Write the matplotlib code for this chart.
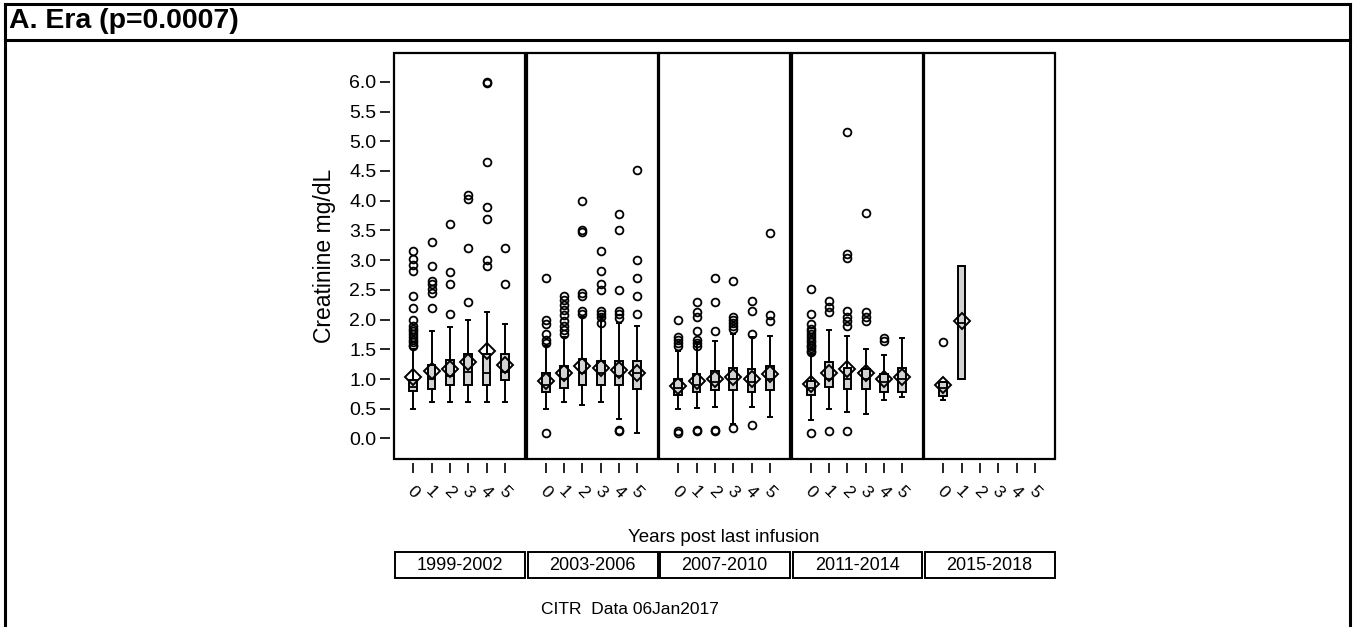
import matplotlib
matplotlib.use("Agg")
import matplotlib.pyplot as plt
from matplotlib.patches import Rectangle
from matplotlib.lines import Line2D

plt.rcParams['font.family'] = ['Liberation Sans', 'DejaVu Sans']

# ---------------- data ----------------
eras = ['1999-2002', '2003-2006', '2007-2010', '2011-2014', '2015-2018']
years = [0, 1, 2, 3, 4, 5]
year_labels = ['0', '1', '2', '3', '4', '5']
title_text = 'A. Era (p=0.0007)'
ylabel_text = 'Creatinine mg/dL'
xlabel_text = 'Years post last infusion'
footnote_text = 'CITR  Data 06Jan2017'
ytick_values = [0.0, 0.5, 1.0, 1.5, 2.0, 2.5, 3.0, 3.5, 4.0, 4.5, 5.0, 5.5, 6.0]

q1 = [
    [0.80, 0.83, 0.90, 0.90, 0.90, 0.99],
    [0.79, 0.85, 0.90, 0.90, 0.90, 0.84],
    [0.73, 0.78, 0.81, 0.81, 0.79, 0.81],
    [0.73, 0.86, 0.83, 0.83, 0.79, 0.79],
    [0.72, 1.00, None, None, None, None],
]
median = [
    [0.87, 1.00, 1.05, 1.12, 1.10, 1.12],
    [0.90, 1.00, 1.10, 1.10, 1.05, 1.10],
    [0.85, 0.90, 0.95, 1.00, 0.95, 1.00],
    [0.85, 1.00, 1.00, 1.00, 0.95, 1.00],
    [0.85, 1.95, None, None, None, None],
]
q3 = [
    [0.99, 1.24, 1.32, 1.42, 1.42, 1.42],
    [1.11, 1.22, 1.33, 1.31, 1.31, 1.31],
    [1.00, 1.08, 1.14, 1.19, 1.17, 1.22],
    [0.97, 1.28, 1.19, 1.17, 1.08, 1.19],
    [0.95, 2.90, None, None, None, None],
]
whisker_low = [
    [0.50, 0.61, 0.62, 0.61, 0.61, 0.61],
    [0.50, 0.61, 0.57, 0.61, 0.32, 0.10],
    [0.50, 0.52, 0.53, 0.25, 0.53, 0.36],
    [0.31, 0.50, 0.44, 0.42, 0.64, 0.69],
    [0.65, 1.00, None, None, None, None],
]
whisker_high = [
    [1.50, 1.80, 1.88, 2.00, 2.12, 1.92],
    [1.55, 1.70, 2.05, 2.05, 1.95, 1.90],
    [1.48, 1.62, 1.64, 1.75, 1.70, 1.72],
    [1.42, 1.83, 1.72, 1.50, 1.40, 1.69],
    [0.95, 2.90, None, None, None, None],
]
mean = [
    [1.03, 1.13, 1.17, 1.29, 1.48, 1.24],
    [0.97, 1.10, 1.22, 1.18, 1.16, 1.11],
    [0.89, 0.97, 1.00, 1.04, 1.00, 1.08],
    [0.92, 1.11, 1.17, 1.11, 1.00, 1.03],
    [0.90, 1.97, None, None, None, None],
]
outliers = [
    [[3.15, 3.02, 2.92, 2.82, 2.40, 2.20, 2.00, 1.90, 1.85, 1.80, 1.75, 1.70, 1.66, 1.62, 1.58, 1.55],
     [3.30, 2.90, 2.65, 2.60, 2.52, 2.45, 2.20],
     [3.60, 2.80, 2.60, 2.10],
     [4.10, 4.03, 3.20, 2.30],
     [6.00, 5.98, 4.65, 3.90, 3.70, 3.00, 2.90],
     [3.20, 2.60]],
    [[2.70, 2.00, 1.92, 1.75, 1.65, 1.60, 0.10],
     [2.40, 2.33, 2.25, 2.17, 2.08, 1.98, 1.90, 1.82, 1.75],
     [4.00, 3.50, 3.47, 2.45, 2.40, 2.15, 2.10],
     [3.15, 2.82, 2.60, 2.50, 2.15, 2.10, 2.05, 1.95],
     [3.78, 3.50, 2.50, 2.15, 2.10, 2.02, 0.15, 0.12],
     [4.52, 3.00, 2.70, 2.40, 2.10]],
    [[2.00, 1.70, 1.65, 1.60, 1.55, 0.12, 0.10],
     [2.30, 2.12, 2.05, 1.80, 1.65, 1.60, 1.56, 0.14, 0.12],
     [2.70, 2.30, 1.80, 0.15, 0.12],
     [2.65, 2.05, 2.00, 1.95, 1.90, 1.85, 0.17],
     [2.32, 2.14, 1.75, 0.22],
     [3.45, 2.08, 1.97]],
    [[2.52, 2.10, 1.93, 1.85, 1.80, 1.75, 1.70, 1.65, 1.62, 1.58, 1.55, 1.52, 1.48, 1.45, 0.10],
     [2.32, 2.22, 2.12, 0.12],
     [5.15, 3.10, 3.04, 2.15, 2.05, 1.97, 1.90, 0.12],
     [3.80, 2.12, 2.05, 1.98],
     [1.69, 1.64],
     []],
    [[1.62], [], [], [], [], []],
]

# ---------------- layout (pixels) ----------------
W, H, DPI = 1354, 627, 100
fig = plt.figure(figsize=(W / DPI, H / DPI), dpi=DPI)


def fx(px):
    return px / W


def fy(py):
    return 1 - py / H


# outer frame and title bar
for (x0, y0, x1, y1) in [(5, 4, 1350, 4), (5, 4, 5, 640), (1350, 4, 1350, 640),
                         (5, 39.5, 1350, 39.5)]:
    fig.add_artist(Line2D([fx(x0), fx(x1)], [fy(y0), fy(y1)], color='black', lw=2.2,
                          transform=fig.transFigure))
fig.text(fx(9), fy(21), title_text, fontsize=20.5, fontweight='bold', ha='left', va='center')

panel_left0, pitch, pw = 394, 132.5, 131
ptop, pbot = 52.7, 459.3

for i, era in enumerate(eras):
    ax = fig.add_axes([fx(panel_left0 + i * pitch), fy(pbot), pw / W, (pbot - ptop) / H])
    stats, pos = [], []
    for j in years:
        if q1[i][j] is None:
            continue
        stats.append(dict(q1=q1[i][j], med=median[i][j], q3=q3[i][j],
                          whislo=whisker_low[i][j], whishi=whisker_high[i][j],
                          mean=mean[i][j], fliers=outliers[i][j]))
        pos.append(j)
    ax.bxp(stats, positions=pos, widths=0.42, capwidths=0.22, showmeans=True,
           patch_artist=True,
           boxprops=dict(facecolor='#d3d3d3', edgecolor='black', linewidth=1.4),
           medianprops=dict(color='black', linewidth=1.3),
           whiskerprops=dict(color='black', linewidth=1.4),
           capprops=dict(color='black', linewidth=1.4),
           meanprops=dict(marker='D', markerfacecolor='none', markeredgecolor='black',
                          markersize=8.5, markeredgewidth=1.4),
           flierprops=dict(marker='o', markerfacecolor='none', markeredgecolor='black',
                           markersize=5.6, markeredgewidth=1.3))
    ax.set_xlim(-1.05, 6.1)
    ax.set_ylim(-0.35, 6.49)
    for s in ax.spines.values():
        s.set_color('none')
    ax.spines['bottom'].set_position(('outward', 2.5))
    ax.spines['left'].set_position(('outward', 3.0))
    ax.add_patch(Rectangle((0, 0), 1, 1, transform=ax.transAxes, fill=False,
                           edgecolor='black', lw=1.6, clip_on=False, zorder=5))
    ax.set_xticks(years)
    ax.set_xticklabels(year_labels, rotation=-45, fontsize=12.5, rotation_mode='default')
    ax.tick_params(axis='x', length=7.2, width=1.2, pad=8, color='black')
    ax.set_yticks(ytick_values)
    if i == 0:
        ax.set_yticklabels([f'{v:.1f}' for v in ytick_values], fontsize=14)
        ax.tick_params(axis='y', length=7.2, width=1.2, pad=2.5)
    else:
        ax.tick_params(axis='y', left=False, labelleft=False)
    # era label box
    fig.add_artist(Rectangle((fx(panel_left0 + i * pitch + 1), fy(578)), (pw - 1) / W, 26 / H,
                             transform=fig.transFigure, fill=False, edgecolor='black', lw=1.4))
    fig.text(fx(panel_left0 + i * pitch + pw / 2), fy(565), era, fontsize=13,
             ha='center', va='center')

fig.text(fx(325), fy(256), ylabel_text, fontsize=16.5, rotation=90, ha='center', va='center')
fig.text(fx(724), fy(538), xlabel_text, fontsize=13.5, ha='center', va='center')
fig.text(fx(630), fy(609), footnote_text, fontsize=12.5, ha='center', va='center')

fig.savefig('out.png', dpi=DPI)
